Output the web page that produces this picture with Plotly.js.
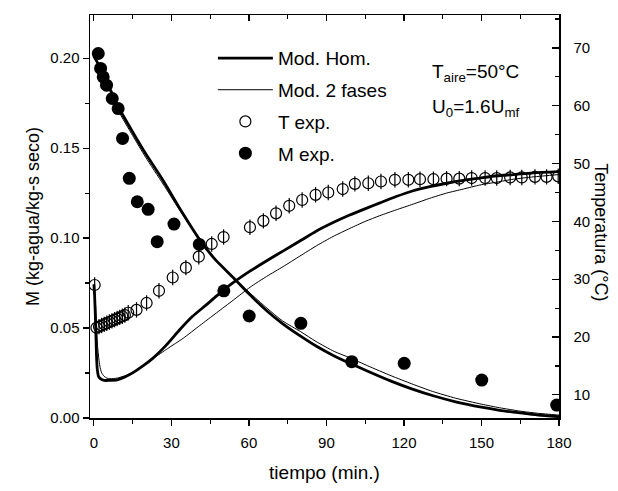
<!DOCTYPE html>
<html>
<head>
<meta charset="utf-8">
<script src="https://cdn.plot.ly/plotly-3.0.1.min.js"></script>
<style>html,body{margin:0;padding:0;background:#fff;}#chart{width:618px;height:491px;}</style>
</head>
<body>
<div id="chart"></div>
<script>
// ---- Data ----
// Experimental moisture M (kg-agua/kg-s seco), left axis
var mExpT = [1.7, 2.6, 3.6, 4.9, 7.1, 9.4, 11.1, 13.7, 16.8, 21, 24.5, 31, 40.8, 50.3, 60.1, 80.1, 99.8, 120.1, 150.1, 179.1];
var mExpM = [0.2026, 0.1943, 0.1896, 0.185, 0.1776, 0.172, 0.1554, 0.1332, 0.1202, 0.116, 0.098, 0.1078, 0.0965, 0.0707, 0.0567, 0.0526, 0.0313, 0.0304, 0.0211, 0.0072];

// Experimental temperature (°C), right axis
var tExpT = [0.3, 1, 2, 3, 4, 5, 6, 7, 8, 9, 10, 11, 12, 13.3, 16.5, 20.4, 25.2, 30.5, 35.6, 40.6, 45.6, 50.2,
             60.4, 65.6, 70.5, 75.6, 80.6, 85.8, 90.7, 96.3, 101, 106.2, 111.1, 116.5, 121.7, 126.2, 131.4, 136.5,
             141.4, 146.2, 151.4, 155.9, 161.1, 165.6, 170.7, 175.2, 179.7];
var tExpC = [29.0, 21.6, 21.8, 22.0, 22.2, 22.4, 22.6, 22.8, 23.0, 23.2, 23.4, 23.6, 23.8, 24.2, 24.7, 25.9, 28.0, 30.3, 32.0, 33.9, 36.1, 37.3,
             39.0, 40.1, 41.4, 42.7, 43.7, 44.6, 45.0, 45.6, 46.5, 46.6, 46.9, 47.2, 47.2, 47.3, 47.3, 47.4,
             47.4, 47.5, 47.5, 47.5, 47.6, 47.6, 47.7, 47.7, 47.8];

// Model "Mod. Hom." (thick): moisture and temperature
var homMT = [0, 2, 5, 9.4, 15, 20, 26.8, 33, 41, 47, 54, 60, 67, 73, 80, 86, 93, 99, 106, 115, 123, 131, 140, 150, 157, 165, 172, 180];
var homM  = [0.201, 0.196, 0.187, 0.173, 0.159, 0.147, 0.132, 0.117, 0.099, 0.088, 0.078, 0.069, 0.0595, 0.0525, 0.0455, 0.040, 0.0345, 0.0305, 0.026, 0.0205, 0.0162, 0.0125, 0.009, 0.006, 0.0043, 0.0028, 0.0016, 0.0007];
var homTT = [0, 0.3, 0.7, 1.0, 1.3, 1.8, 2.5, 4, 6, 9, 12, 15, 19, 23, 28, 33.3, 38, 43.6, 48, 53.9, 60.4, 66.9, 73.3, 79.7, 86, 92.6, 99, 105.6, 110.7, 117, 123.6, 130, 136.5, 143, 149.4, 156, 162.3, 170, 180];
var homTC = [29.1, 27, 22, 17, 14.5, 13.2, 12.8, 12.5, 12.5, 12.6, 13.1, 13.8, 15.0, 16.4, 18.6, 21.3, 23.5, 25.6, 27.3, 29.4, 31.4, 33.2, 34.9, 36.6, 38.3, 39.8, 41.1, 42.3, 43.2, 44.3, 45.3, 46.0, 46.6, 47.1, 47.5, 47.9, 48.1, 48.4, 48.6];

// Model "Mod. 2 fases" (thin): moisture and temperature
var fasMT = [0, 2, 5, 9.4, 15, 20, 26.8, 33, 41, 47, 54, 60, 67, 73, 80, 86, 93, 99, 106, 115, 123, 131, 140, 150, 157, 165, 172, 180];
var fasM  = [0.201, 0.195, 0.186, 0.171, 0.157, 0.145, 0.130, 0.116, 0.099, 0.088, 0.078, 0.070, 0.061, 0.054, 0.048, 0.0425, 0.037, 0.0335, 0.029, 0.0235, 0.019, 0.0148, 0.011, 0.0077, 0.0057, 0.0038, 0.0026, 0.0016];
var fasTT = [0, 0.3, 0.7, 1.0, 1.5, 2.3, 3, 4, 5, 6.2, 9, 12, 15, 19, 23, 28.5, 34.6, 41, 47.5, 54, 60.4, 66.9, 73.3, 79.7, 86.2, 92.6, 99.1, 105, 110.7, 117, 123.6, 130, 136.5, 143, 149.4, 156, 162.3, 170, 180];
var fasTC = [29.1, 28, 25, 21.5, 18, 15.0, 13.8, 13.2, 12.9, 12.8, 12.9, 13.3, 13.9, 15.0, 16.3, 18.0, 19.8, 22.0, 24.2, 26.4, 28.6, 30.5, 32.2, 34.0, 35.8, 37.4, 38.8, 40.0, 41.0, 42.0, 43.0, 44.0, 44.9, 45.6, 46.3, 46.8, 47.3, 47.7, 48.1];

// Axis tick values / labels
var xTicks = [0, 30, 60, 90, 120, 150, 180];
var yTicks = [0.00, 0.05, 0.10, 0.15, 0.20];
var y2Ticks = [10, 20, 30, 40, 50, 60, 70];

var FONT = 'Liberation Sans, Arial, sans-serif';
var BLACK = '#000';
var SMOOTH = {shape: 'spline', smoothing: 0.6};

var traces = [
  {x: homMT, y: homM, mode: 'lines', name: 'Mod. Hom.', legendgroup: 'g1', showlegend: true,
   line: Object.assign({color: BLACK, width: 2.8}, SMOOTH), xaxis: 'x', yaxis: 'y'},
  {x: homTT, y: homTC, mode: 'lines', name: 'Mod. Hom.', legendgroup: 'g1', showlegend: false,
   line: Object.assign({color: BLACK, width: 2.8}, SMOOTH), xaxis: 'x', yaxis: 'y2'},
  {x: fasMT, y: fasM, mode: 'lines', name: 'Mod. 2 fases', legendgroup: 'g2', showlegend: true,
   line: Object.assign({color: BLACK, width: 1}, SMOOTH), xaxis: 'x', yaxis: 'y'},
  {x: fasTT, y: fasTC, mode: 'lines', name: 'Mod. 2 fases', legendgroup: 'g2', showlegend: false,
   line: Object.assign({color: BLACK, width: 1}, SMOOTH), xaxis: 'x', yaxis: 'y2'},
  {x: tExpT, y: tExpC, mode: 'markers', name: 'T exp.', legendgroup: 'g3', showlegend: true,
   marker: {symbol: 'circle-open', size: 11, color: BLACK, line: {width: 1.2, color: BLACK}}, xaxis: 'x', yaxis: 'y2'},
  {x: tExpT, y: tExpC, mode: 'markers', name: 'T exp.', legendgroup: 'g3', showlegend: false,
   marker: {symbol: 'line-ns-open', size: 11, color: BLACK, line: {width: 1.2, color: BLACK}}, xaxis: 'x', yaxis: 'y2'},
  {x: mExpT, y: mExpM, mode: 'markers', name: 'M exp.', legendgroup: 'g4', showlegend: true,
   marker: {symbol: 'circle', size: 13, color: BLACK}, xaxis: 'x', yaxis: 'y'},
  {x: [], y: [], xaxis: 'x2', yaxis: 'y', showlegend: false, hoverinfo: 'skip', mode: 'markers'}
];

var commonAxis = {
  showgrid: false, zeroline: false, showline: true, linecolor: BLACK, linewidth: 1.5,
  tickcolor: BLACK, tickwidth: 1.2, tickfont: {family: FONT, size: 15, color: BLACK}
};

var layout = {
  width: 618, height: 491,
  margin: {l: 90, r: 59, t: 15, b: 73, pad: 0},
  paper_bgcolor: '#fff', plot_bgcolor: '#fff',
  font: {family: FONT, color: BLACK},
  showlegend: true,
  legend: {x: 0.262, y: 0.94, xanchor: 'left', yanchor: 'top', bgcolor: 'rgba(0,0,0,0)',
           font: {family: FONT, size: 19, color: BLACK}, itemwidth: 55, tracegroupgap: 4},
  xaxis: Object.assign({}, commonAxis, {
    range: [-1.5, 180], tickmode: 'array', tickvals: xTicks, ticktext: xTicks.map(String),
    ticks: 'outside', ticklen: 6, ticklabelstandoff: 4,
    minor: {dtick: 15, tick0: 0, ticks: 'outside', ticklen: 4, tickcolor: BLACK, tickwidth: 1.2},
    title: {text: 'tiempo (min.)', font: {family: FONT, size: 19, color: BLACK}, standoff: 16}
  }),
  xaxis2: Object.assign({}, commonAxis, {
    overlaying: 'x', side: 'top', range: [-1.5, 180], dtick: 30, tick0: 0,
    ticks: 'inside', ticklen: 6, showticklabels: false,
    minor: {dtick: 15, tick0: 0, ticks: 'inside', ticklen: 4, tickcolor: BLACK, tickwidth: 1.2}
  }),
  yaxis: Object.assign({}, commonAxis, {
    range: [0, 0.224], tickmode: 'array', tickvals: yTicks, ticktext: yTicks.map(function(v){return v.toFixed(2);}),
    ticks: 'outside', ticklen: 6,
    minor: {dtick: 0.025, tick0: 0, ticks: 'outside', ticklen: 4, tickcolor: BLACK, tickwidth: 1.2},
    title: {text: 'M (kg-agua/kg-s seco)', font: {family: FONT, size: 18, color: BLACK}, standoff: 6}
  }),
  yaxis2: Object.assign({}, commonAxis, {
    overlaying: 'y', side: 'right', range: [6, 75.7], tickmode: 'array', tickvals: y2Ticks, ticktext: y2Ticks.map(String),
    ticks: 'inside', ticklen: 7, ticklabelstandoff: 10,
    minor: {dtick: 5, tick0: 0, ticks: 'inside', ticklen: 4, tickcolor: BLACK, tickwidth: 1.2}
  }),
  annotations: [
    {xref: 'paper', yref: 'paper', x: 1.089, y: 0.4615, text: 'Temperatura (°C)', textangle: 90,
     showarrow: false, xanchor: 'center', yanchor: 'middle', font: {family: FONT, size: 18, color: BLACK}},
    {xref: 'paper', yref: 'paper', x: 0.725, y: 0.855, text: 'T<sub>aire</sub>=50°C',
     showarrow: false, xanchor: 'left', yanchor: 'middle', font: {family: FONT, size: 19, color: BLACK}},
    {xref: 'paper', yref: 'paper', x: 0.725, y: 0.77, text: 'U<sub>0</sub>=1.6U<sub>mf</sub>',
     showarrow: false, xanchor: 'left', yanchor: 'middle', font: {family: FONT, size: 19, color: BLACK}}
  ]
};

Plotly.newPlot('chart', traces, layout, {displayModeBar: false, staticPlot: true});
</script>
</body>
</html>
